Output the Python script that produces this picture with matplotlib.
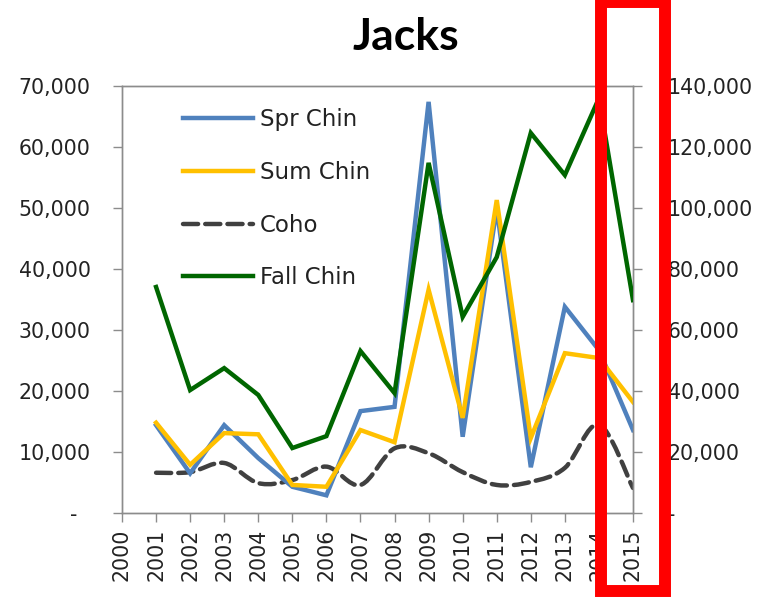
import matplotlib

matplotlib.use("Agg")
import matplotlib.pyplot as plt
import numpy as np
from matplotlib.lines import Line2D
from matplotlib.patches import PathPatch, Rectangle
from matplotlib.path import Path
from matplotlib.ticker import FuncFormatter


YEARS = list(range(2001, 2016))
SPR_CHIN = [14400, 6500, 14400, 9000, 4300, 2900, 16700, 17400, 67400, 12500, 50000, 7500, 33800, 26700, 13600]
SUM_CHIN = [14800, 7900, 13100, 12900, 4600, 4300, 13600, 11600, 36600, 15600, 51300, 12300, 26200, 25400, 18200]
COHO = [6600, 6700, 8200, 4900, 5400, 7600, 4600, 10600, 9800, 6700, 4600, 5100, 7400, 14500, 4100]
FALL_CHIN = [74100, 40300, 47500, 38700, 21300, 25200, 53100, 39300, 114800, 64300, 83900, 124600, 110800, 136000, 69800]

LEFT_TICKS = list(range(0, 70001, 10000))
RIGHT_TICKS = list(range(0, 140001, 20000))
X_TICKS = list(range(2000, 2016))

BLUE = "#4F81BD"
GOLD = "#FFC000"
DARK = "#404040"
GREEN = "#006600"
AXIS_GRAY = "#8C8C8C"
TEXT = "#222222"

plt.rcParams["font.family"] = "DejaVu Sans"


def acct(v, _pos=None, trail="  "):
    if v == 0:
        return "-" + trail
    return f"{int(v):,}"


def smooth_path(xs, ys):
    # Bezier through each point, like Excel's smoothed line
    pts = np.column_stack([xs, ys]).astype(float)
    n = len(pts)
    verts = [pts[0]]
    codes = [Path.MOVETO]
    for i in range(n - 1):
        p0 = pts[i - 1] if i > 0 else pts[i]
        p1 = pts[i]
        p2 = pts[i + 1]
        p3 = pts[i + 2] if i + 2 < n else pts[i + 1]
        c1 = p1 + (p2 - p0) / 6.0
        c2 = p2 - (p3 - p1) / 6.0
        verts += [c1, c2, p2]
        codes += [Path.CURVE4] * 3
    return Path(verts, codes)


fig = plt.figure(figsize=(7.69, 5.98), dpi=100)
ax = fig.add_axes([122 / 769, 1 - 513 / 598, 511 / 769, 427 / 598])
ax2 = ax.twinx()

lw = 3.2
ax.plot(YEARS, SPR_CHIN, color=BLUE, lw=lw, solid_joinstyle="miter", zorder=3)
ax.plot(YEARS, SUM_CHIN, color=GOLD, lw=lw, solid_joinstyle="miter", zorder=4)
coho = PathPatch(smooth_path(YEARS, COHO), fill=False, edgecolor=DARK, lw=lw,
                 linestyle=(0, (3.4, 1.6)), capstyle="round", zorder=2)
ax.add_patch(coho)
ax2.plot(YEARS, FALL_CHIN, color=GREEN, lw=lw, solid_joinstyle="miter", zorder=3)

ax.set_xlim(2000, 2015)
ax.set_ylim(0, 70000)
ax2.set_ylim(0, 140000)

ax.set_xticks(X_TICKS)
ax.set_xticklabels([str(y) for y in X_TICKS], rotation=90)
ax.set_yticks(LEFT_TICKS)
ax.yaxis.set_major_formatter(FuncFormatter(acct))
ax2.set_yticks(RIGHT_TICKS)
ax2.yaxis.set_major_formatter(FuncFormatter(lambda v, p: acct(v, p, trail="")))

for a in (ax, ax2):
    for sp in a.spines.values():
        sp.set_color(AXIS_GRAY)
        sp.set_linewidth(1.0)
    a.tick_params(colors=AXIS_GRAY, labelcolor=TEXT, labelsize=14.8, length=6.5, width=1.0)
ax.tick_params(axis="y", pad=16)
ax.tick_params(axis="x", pad=5)
ax2.tick_params(axis="y", pad=18.5)

handles = [
    Line2D([], [], color=BLUE, lw=lw),
    Line2D([], [], color=GOLD, lw=lw),
    Line2D([], [], color=DARK, lw=lw, linestyle=(0, (3.4, 1.6)), dash_capstyle="round"),
    Line2D([], [], color=GREEN, lw=lw),
]
ax2.legend(handles, ["Spr Chin", "Sum Chin", "Coho", "Fall Chin"], loc="upper left",
           bbox_to_anchor=(61 / 511, 1 - 22 / 427), frameon=False, fontsize=16.5,
           handlelength=3.05, handletextpad=0.3, labelspacing=1.3,
           borderpad=0, borderaxespad=0, labelcolor=TEXT)

fig.text(406 / 769, 1 - 37 / 598, "Jacks", ha="center", va="center",
         fontsize=32, fontweight="bold", family="Lato", color="black")

# red highlight box over 2014-2015
fig.patches.append(Rectangle((601 / 769, 1 - 591 / 598), 64 / 769, 589 / 598,
                             transform=fig.transFigure, fill=False, edgecolor="#FF0000",
                             lw=8.6, zorder=10))

fig.savefig("out.png", dpi=100, facecolor="white")
